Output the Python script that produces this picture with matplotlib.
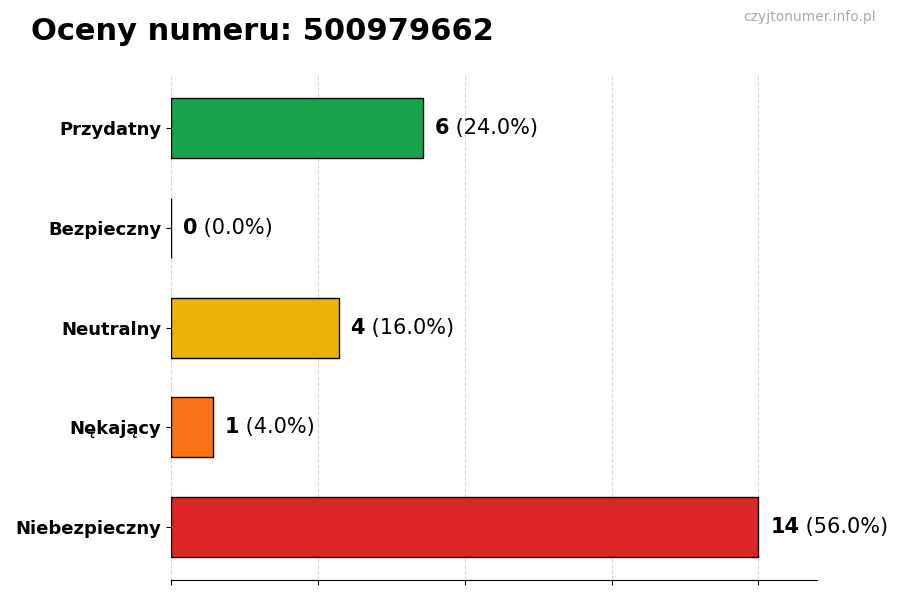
import matplotlib.pyplot as plt
import numpy as np

categories = ['Przydatny', 'Bezpieczny', 'Neutralny', 'Nękający', 'Niebezpieczny']
counts = [6, 0, 4, 1, 14]
colors = ['#16a34a', '#15803d', '#eab308', '#f97316', '#dc2626']
number = '500979662'

total = sum(counts)
y = np.arange(len(categories))[::-1]

fig = plt.figure(figsize=(9, 6), dpi=100)
ax = fig.add_axes([0.19, 0.033, 0.718, 0.842])

ax.barh(y, counts, height=0.6, color=colors, edgecolor='black', linewidth=1, zorder=3)

max_val = max(counts)
ax.set_xlim(0, max_val * 1.1)
ax.set_xticks(np.linspace(0, max_val, 5))
ax.set_xticklabels([])
ax.grid(axis='x', linestyle='--', color='#d9d9d9', linewidth=0.8, zorder=0)

ax.set_yticks(y)
ax.set_yticklabels(categories, fontsize=13, fontweight='bold')

for side in ['top', 'right', 'left']:
    ax.spines[side].set_visible(False)

for yi, c in zip(y, counts):
    t = ax.text(c + max_val * 0.02, yi, str(c), fontsize=15, fontweight='bold',
                va='center', ha='left')
    ax.annotate(' ({:.1f}%)'.format(c / total * 100), xy=(1, 0.5), xycoords=t,
                va='center', ha='left', fontsize=15)

fig.text(0.034, 0.947, 'Oceny numeru: ' + number, fontsize=22, fontweight='bold',
         va='center', ha='left')
fig.text(0.973, 0.971, 'czyjtonumer.info.pl', fontsize=10, color='#aaaaaa',
         va='center', ha='right')

plt.savefig('out.png')
